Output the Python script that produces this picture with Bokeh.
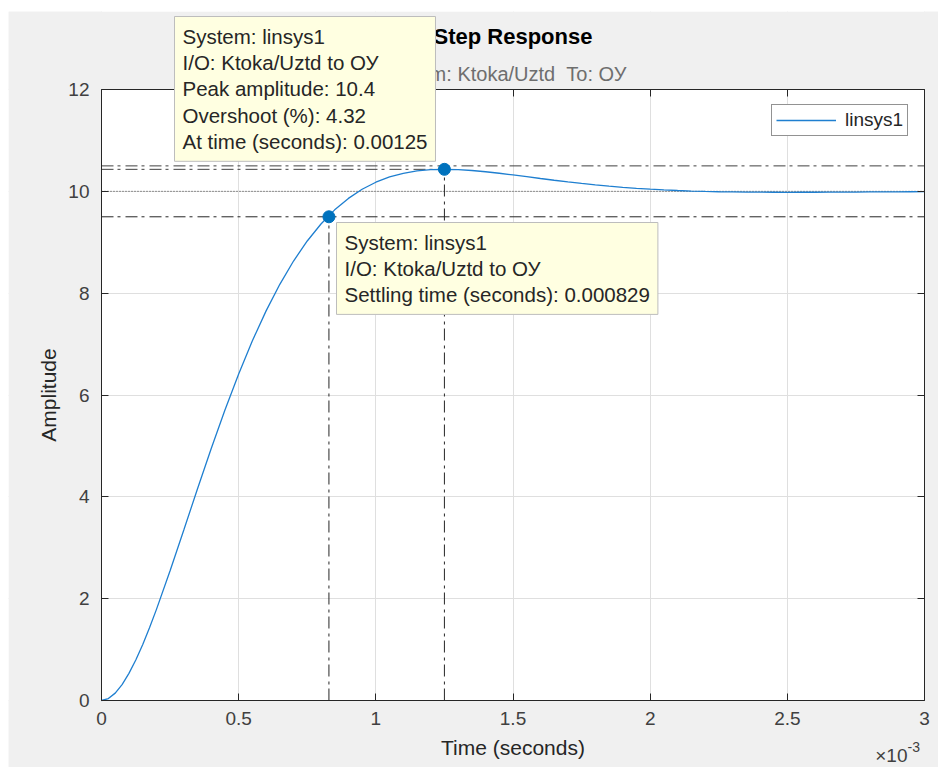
from bokeh.plotting import figure
from bokeh.models import (Range1d, FixedTicker, Label, CustomJSTickFormatter,
                          LinearAxis, BoxAnnotation)
from bokeh.embed import file_html
from bokeh.resources import INLINE

# ---------------- data ----------------
time_ms = [0.0, 0.025, 0.05, 0.075, 0.1, 0.125, 0.15, 0.175, 0.2, 0.25, 0.3, 0.35, 0.4,
           0.45, 0.5, 0.55, 0.6, 0.65, 0.7, 0.75, 0.8, 0.85, 0.9, 0.95, 1.0, 1.05, 1.1,
           1.15, 1.2, 1.25, 1.3, 1.35, 1.4, 1.45, 1.5, 1.55, 1.6, 1.65, 1.7, 1.75, 1.8,
           1.85, 1.9, 1.95, 2.0, 2.05, 2.1, 2.15, 2.2, 2.25, 2.3, 2.35, 2.4, 2.45, 2.5,
           2.55, 2.6, 2.65, 2.7, 2.75, 2.8, 2.85, 2.9, 2.95, 3.0]
amplitude = [0.0, 0.038, 0.145, 0.313, 0.533, 0.796, 1.097, 1.428, 1.785, 2.548, 3.350,
             4.158, 4.949, 5.706, 6.413, 7.064, 7.652, 8.174, 8.631, 9.025, 9.358, 9.636,
             9.861, 10.041, 10.179, 10.282, 10.354, 10.400, 10.425, 10.432, 10.426, 10.409,
             10.385, 10.355, 10.322, 10.287, 10.252, 10.218, 10.186, 10.155, 10.127, 10.102,
             10.079, 10.059, 10.042, 10.028, 10.016, 10.006, 9.998, 9.992, 9.988, 9.985,
             9.983, 9.982, 9.981, 9.982, 9.982, 9.983, 9.985, 9.986, 9.988, 9.989, 9.991,
             9.992, 9.993]
x_ticks = [0, 0.5, 1, 1.5, 2, 2.5, 3]
y_ticks = [0, 2, 4, 6, 8, 10, 12]

system_name = "linsys1"
io_name = "Ktoka/Uztd to ОУ"
subtitle = "From: Ktoka/Uztd \u00a0To: ОУ"
final_value = 10.0
settle_band = 0.05
peak_time_s = 0.00125
peak_amp = 10.432
overshoot_pct = 4.32
settling_time_s = 0.000829
settling_amp = 9.5

# ---------------- layout / styling constants ----------------
FONT = "Liberation Sans"
AX = "#262626"
BLUE = "#1f7fd0"
GRAY_BG = "#f0f0f0"
DASHDOT = "12 4 3 5"

FIG_W, FIG_H = 930, 756
AXES_LEFT_PX, AXES_RIGHT_PX = 93, 916     # axes box inside the canvas (x=0 and x=3)
AXES_TOP_PX, AXES_BOTTOM_PX = 78, 689     # axes box inside the canvas (y=12 and y=0)
X_LO, X_HI = x_ticks[0], x_ticks[-1]
Y_LO, Y_HI = y_ticks[0], y_ticks[-1]
PPX = (AXES_RIGHT_PX - AXES_LEFT_PX) / (X_HI - X_LO)   # pixels per ms
PPU = (AXES_BOTTOM_PX - AXES_TOP_PX) / (Y_HI - Y_LO)   # pixels per amplitude unit
x_start = X_LO - AXES_LEFT_PX / PPX
x_end = X_HI + (FIG_W - AXES_RIGHT_PX) / PPX
y_start = Y_LO - (FIG_H - AXES_BOTTOM_PX) / PPU
y_end = Y_HI + AXES_TOP_PX / PPU


def x_of(px):  # canvas pixel column -> data x (annotation placement only)
    return X_LO + (px - AXES_LEFT_PX) / PPX


def y_of(px):  # canvas pixel row -> data y (annotation placement only)
    return Y_LO + (AXES_BOTTOM_PX - px) / PPU


p = figure(width=FIG_W, height=FIG_H, x_range=Range1d(x_start, x_end),
           y_range=Range1d(y_start, y_end),
           output_backend="svg", toolbar_location=None, margin=(11, 0, 0, 8),
           min_border=0, min_border_left=0, min_border_right=0, min_border_top=0,
           min_border_bottom=0,
           background_fill_color="white", border_fill_color=GRAY_BG,
           outline_line_color=None)

for ax in (p.xaxis, p.yaxis):
    ax.major_tick_in = 7
    ax.major_tick_out = 0
    ax.minor_tick_line_color = None
    ax.axis_line_color = AX
    ax.major_tick_line_color = AX
    ax.major_label_text_font = FONT
    ax.major_label_text_font_size = "19px"
    ax.major_label_text_color = "#404040"
    ax.axis_label_text_font = FONT
    ax.axis_label_text_font_size = "21px"
    ax.axis_label_text_font_style = "normal"
    ax.axis_label_text_color = AX

p.xaxis.ticker = FixedTicker(ticks=x_ticks)
p.xaxis.formatter = CustomJSTickFormatter(code="return String(Math.round(tick*10)/10);")
p.xaxis.fixed_location = Y_LO
p.xaxis.bounds = (X_LO, X_HI)
p.xaxis.major_label_standoff = 11
p.xaxis.axis_label = "Time (seconds)"
p.xaxis.axis_label_standoff = 8

p.yaxis.ticker = FixedTicker(ticks=y_ticks)
p.yaxis.fixed_location = X_LO
p.yaxis.bounds = (Y_LO, Y_HI)
p.yaxis.major_label_standoff = 12
p.yaxis.axis_label = "Amplitude"
p.yaxis.axis_label_standoff = 5

# right and top edges of the axes box (with inward ticks, no labels)
blank = CustomJSTickFormatter(code="return '';")
right_ax = LinearAxis(ticker=FixedTicker(ticks=y_ticks), bounds=(Y_LO, Y_HI), formatter=blank,
                      fixed_location=X_HI, major_tick_in=7, major_tick_out=0,
                      minor_tick_line_color=None, axis_line_color=AX,
                      major_tick_line_color=AX, major_label_standoff=0)
p.add_layout(right_ax, "right")
top_ax = LinearAxis(ticker=FixedTicker(ticks=x_ticks), bounds=(X_LO, X_HI), formatter=blank,
                    fixed_location=Y_HI, major_tick_in=7, major_tick_out=0,
                    minor_tick_line_color=None, axis_line_color=AX,
                    major_tick_line_color=AX, major_label_standoff=0)
p.add_layout(top_ax, "above")

p.grid.grid_line_color = "#dfdfdf"

# gray figure background around the axes box (over grid ends, under everything else)
for kw in (dict(bottom=Y_HI), dict(top=Y_LO), dict(right=X_LO), dict(left=X_HI)):
    p.add_layout(BoxAnnotation(fill_color=GRAY_BG, fill_alpha=1, line_color=None,
                               level="underlay", **kw))

# characteristic lines
lower = final_value * (1 - settle_band)
upper = final_value * (1 + settle_band)
peak_t = peak_time_s * 1e3
settle_t = settling_time_s * 1e3

p.line([X_LO, X_HI], [final_value, final_value], line_color="#3a3a3a", line_dash="1 2",
       line_width=1)
p.line([X_LO, X_HI], [upper, upper], line_color="#404040", line_dash=DASHDOT, line_width=1)
p.line([X_LO, X_HI], [lower, lower], line_color=AX, line_dash=DASHDOT, line_width=1)
p.line([X_LO, peak_t], [peak_amp, peak_amp], line_color="#404040", line_dash=DASHDOT,
       line_width=1)
p.line([peak_t, peak_t], [Y_LO, peak_amp], line_color=AX, line_dash=DASHDOT, line_width=1)
p.line([settle_t, settle_t], [Y_LO, settling_amp], line_color=AX, line_dash=DASHDOT,
       line_width=1)

# response curve
p.line(time_ms, amplitude, line_color=BLUE, line_width=1.3, legend_label=system_name)

p.scatter([settle_t, peak_t], [settling_amp, peak_amp], size=12, color="#0072BD")

leg = p.legend[0]
leg.location = (763, FIG_H - 125)
leg.margin = 0
leg.padding = 4
leg.spacing = 0
leg.glyph_width = 60
leg.glyph_height = 20
leg.label_standoff = 9
leg.label_text_font = FONT
leg.label_text_font_size = "19px"
leg.label_text_color = AX
leg.border_line_color = AX
leg.border_line_width = 1
leg.background_fill_color = "white"
leg.background_fill_alpha = 1

mid_x = (X_LO + X_HI) / 2

# title & subtitle
p.add_layout(Label(x=mid_x, y=y_of(25), text="Step Response", text_align="center",
                   text_baseline="middle", text_font=FONT, text_font_size="22px",
                   text_font_style="bold", text_color="black"))
p.add_layout(Label(x=mid_x, y=y_of(62), text=subtitle, text_align="center",
                   text_baseline="middle", text_font=FONT, text_font_size="20px",
                   text_color="#6e6e6e"))

# x exponent
p.add_layout(Label(x=X_HI, y=y_of(744), x_offset=-17, text="×10", text_align="right",
                   text_baseline="middle", text_font=FONT, text_font_size="19px",
                   text_color="#404040"))
p.add_layout(Label(x=X_HI, y=y_of(735), x_offset=-17, text="-3", text_align="left",
                   text_baseline="middle", text_font=FONT, text_font_size="14px",
                   text_color="#404040"))

# data tips
tip1 = "\n".join([f"System: {system_name}", f"I/O: {io_name}",
                  f"Peak amplitude: {peak_amp:.3g}", f"Overshoot (%): {overshoot_pct:.3g}",
                  f"At time (seconds): {peak_time_s:.3g}"])
tip2 = "\n".join([f"System: {system_name}", f"I/O: {io_name}",
                  f"Settling time (seconds): {settling_time_s:.3g}"])

for txt, xpx, ypx in ((tip1, 166, 5), (tip2, 328, 211)):
    p.add_layout(Label(x=x_of(xpx), y=y_of(ypx), text=txt, anchor="top_left",
                       text_align="left", text_baseline="top", text_font=FONT,
                       text_font_size="20.5px", text_color="#262626", text_line_height=1.15,
                       padding=8, background_fill_color="#ffffe1", background_fill_alpha=1,
                       border_line_color="#bdbdbd", border_line_width=1, level="overlay"))

open("out.html", "w").write(file_html(p, INLINE))
